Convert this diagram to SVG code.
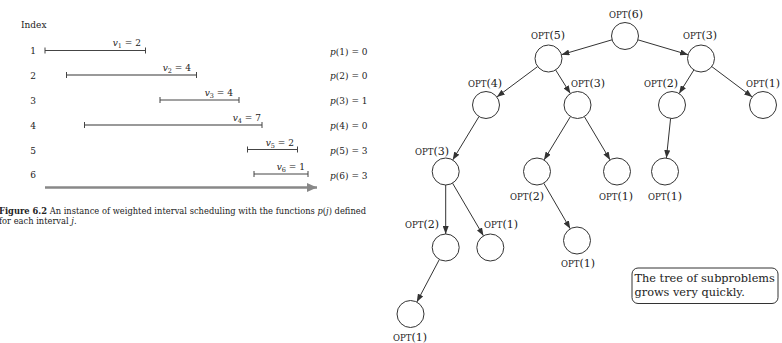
<svg xmlns="http://www.w3.org/2000/svg" width="782" height="343" viewBox="0 0 782 343">
<defs>
<style>
.t{font-family:"DejaVu Serif",serif;font-size:9px;fill:#222}
.cap{font-family:"DejaVu Serif",serif;font-size:8.3px;fill:#222}
.lab{font-family:"DejaVu Serif",serif;fill:#222}
.sc{font-size:8.5px}
.pn{font-size:11px}
.box{font-family:"DejaVu Serif",serif;font-size:11.3px;fill:#222}
.iv{stroke:#444;stroke-width:1;fill:none}
.ivg{stroke:#999;stroke-width:1.8;fill:none}
.node circle{fill:#fff;stroke:#333;stroke-width:1}
.edge{stroke:#333;stroke-width:1;fill:none;marker-end:url(#ah)}
</style>
<marker id="ah" markerUnits="userSpaceOnUse" markerWidth="8" markerHeight="6" refX="8" refY="3" orient="auto">
<path d="M0,0 L8,3 L0,6 z" fill="#333"/>
</marker>
<marker id="gah" markerUnits="userSpaceOnUse" markerWidth="10" markerHeight="9" refX="10" refY="4.5" orient="auto">
<path d="M0,0 L10,4.5 L0,9 z" fill="#888"/>
</marker>
</defs>

<g id="left-figure">
<text class="t" x="21" y="28">Index</text>
<g text-anchor="middle">
<text class="t" x="33" y="54">1</text>
<text class="t" x="33" y="79">2</text>
<text class="t" x="33" y="104">3</text>
<text class="t" x="33" y="129">4</text>
<text class="t" x="33" y="154">5</text>
<text class="t" x="33" y="178">6</text>
</g>
<g id="intervals">
<path class="iv" d="M45,50.5 H145.5 M45,47.5 V53.5 M145.5,47.5 V53.5"/>
<path class="ivg" d="M66.5,75 H196.5"/>
<path class="iv" d="M66.5,72 V78 M196.5,72 V78"/>
<path class="iv" d="M160,100 H239 M160,97 V103 M239,97 V103"/>
<path class="ivg" d="M84.5,125 H262"/>
<path class="iv" d="M84.5,122 V128 M262,122 V128"/>
<path class="iv" d="M247.5,149.5 H297.5 M247.5,146.5 V152.5 M297.5,146.5 V152.5"/>
<path class="iv" d="M254,174 H308 M254,171 V177 M308,171 V177"/>
</g>
<g text-anchor="end">
<text class="t" x="141" y="46"><tspan font-style="italic">v</tspan><tspan font-size="6.5" dy="2">1</tspan><tspan dy="-2"> = 2</tspan></text>
<text class="t" x="191" y="70.5"><tspan font-style="italic">v</tspan><tspan font-size="6.5" dy="2">2</tspan><tspan dy="-2"> = 4</tspan></text>
<text class="t" x="233" y="95.5"><tspan font-style="italic">v</tspan><tspan font-size="6.5" dy="2">3</tspan><tspan dy="-2"> = 4</tspan></text>
<text class="t" x="261" y="120.5"><tspan font-style="italic">v</tspan><tspan font-size="6.5" dy="2">4</tspan><tspan dy="-2"> = 7</tspan></text>
<text class="t" x="294" y="145.5"><tspan font-style="italic">v</tspan><tspan font-size="6.5" dy="2">5</tspan><tspan dy="-2"> = 2</tspan></text>
<text class="t" x="305" y="170"><tspan font-style="italic">v</tspan><tspan font-size="6.5" dy="2">6</tspan><tspan dy="-2"> = 1</tspan></text>
</g>
<g>
<text class="t" x="330" y="54.5"><tspan font-style="italic">p</tspan>(1) = 0</text>
<text class="t" x="330" y="79"><tspan font-style="italic">p</tspan>(2) = 0</text>
<text class="t" x="330" y="104"><tspan font-style="italic">p</tspan>(3) = 1</text>
<text class="t" x="330" y="129"><tspan font-style="italic">p</tspan>(4) = 0</text>
<text class="t" x="330" y="153.5"><tspan font-style="italic">p</tspan>(5) = 3</text>
<text class="t" x="330" y="178.5"><tspan font-style="italic">p</tspan>(6) = 3</text>
</g>
<path d="M45,187.5 H317" stroke="#888" stroke-width="2.5" fill="none" marker-end="url(#gah)"/>
<text class="cap" x="-1" y="213.5" textLength="367" lengthAdjust="spacing"><tspan font-weight="bold">Figure 6.2</tspan>  An instance of weighted interval scheduling with the functions <tspan font-style="italic">p</tspan>(<tspan font-style="italic">j</tspan>) defined</text>
<text class="cap" x="-1" y="223.5">for each interval <tspan font-style="italic">j</tspan>.</text>
</g>

<g id="connectors">
<line class="edge" x1="612.05" y1="39.81" x2="561.45" y2="54.69"/>
<line class="edge" x1="637.94" y1="39.83" x2="688.06" y2="54.67"/>
<line class="edge" x1="537.67" y1="66.56" x2="496.83" y2="96.94"/>
<line class="edge" x1="555.64" y1="69.95" x2="570.36" y2="93.55"/>
<line class="edge" x1="693.86" y1="69.95" x2="679.14" y2="93.55"/>
<line class="edge" x1="711.8" y1="66.6" x2="752.2" y2="96.9"/>
<line class="edge" x1="479" y1="116.55" x2="452.7" y2="159.95"/>
<line class="edge" x1="570.48" y1="116.53" x2="544.02" y2="159.97"/>
<line class="edge" x1="584.39" y1="116.61" x2="610.11" y2="159.89"/>
<line class="edge" x1="670.59" y1="118.43" x2="666.41" y2="158.07"/>
<line class="edge" x1="445.7" y1="185" x2="445.7" y2="234"/>
<line class="edge" x1="452.53" y1="183.14" x2="483.47" y2="235.86"/>
<line class="edge" x1="543.77" y1="183.18" x2="570.23" y2="228.82"/>
<line class="edge" x1="439.38" y1="259.43" x2="416.82" y2="302.07"/>
</g>

<g class="lab" text-anchor="middle">
<g id="n6" class="node"><circle cx="625" cy="36" r="13.5"/><text x="626" y="18"><tspan class="sc">OPT</tspan><tspan class="pn">(6)</tspan></text></g>
<g id="n5" class="node"><circle cx="548.5" cy="58.5" r="13.5"/><text x="548" y="39"><tspan class="sc">OPT</tspan><tspan class="pn">(5)</tspan></text></g>
<g id="n3r" class="node"><circle cx="701" cy="58.5" r="13.5"/><text x="700" y="39"><tspan class="sc">OPT</tspan><tspan class="pn">(3)</tspan></text></g>
<g id="n4" class="node"><circle cx="486" cy="105" r="13.5"/><text x="485" y="87"><tspan class="sc">OPT</tspan><tspan class="pn">(4)</tspan></text></g>
<g id="n3m" class="node"><circle cx="577.5" cy="105" r="13.5"/><text x="588" y="87"><tspan class="sc">OPT</tspan><tspan class="pn">(3)</tspan></text></g>
<g id="n2r" class="node"><circle cx="672" cy="105" r="13.5"/><text x="661" y="87"><tspan class="sc">OPT</tspan><tspan class="pn">(2)</tspan></text></g>
<g id="n1r" class="node"><circle cx="763" cy="105" r="13.5"/><text x="763" y="87"><tspan class="sc">OPT</tspan><tspan class="pn">(1)</tspan></text></g>
<g id="n3l" class="node"><circle cx="445.7" cy="171.5" r="13.5"/><text x="432" y="155"><tspan class="sc">OPT</tspan><tspan class="pn">(3)</tspan></text></g>
<g id="n2m" class="node"><circle cx="537" cy="171.5" r="13.5"/><text x="527" y="200"><tspan class="sc">OPT</tspan><tspan class="pn">(2)</tspan></text></g>
<g id="n1m" class="node"><circle cx="617" cy="171.5" r="13.5"/><text x="616" y="200"><tspan class="sc">OPT</tspan><tspan class="pn">(1)</tspan></text></g>
<g id="n1rr" class="node"><circle cx="665" cy="171.5" r="13.5"/><text x="665" y="200"><tspan class="sc">OPT</tspan><tspan class="pn">(1)</tspan></text></g>
<g id="n2l" class="node"><circle cx="445.7" cy="247.5" r="13.5"/><text x="422" y="228"><tspan class="sc">OPT</tspan><tspan class="pn">(2)</tspan></text></g>
<g id="n1l" class="node"><circle cx="490.3" cy="247.5" r="13.5"/><text x="501" y="228"><tspan class="sc">OPT</tspan><tspan class="pn">(1)</tspan></text></g>
<g id="n1mm" class="node"><circle cx="577" cy="240.5" r="13.5"/><text x="578" y="267"><tspan class="sc">OPT</tspan><tspan class="pn">(1)</tspan></text></g>
<g id="n1b" class="node"><circle cx="410.5" cy="314" r="13.5"/><text x="410" y="341"><tspan class="sc">OPT</tspan><tspan class="pn">(1)</tspan></text></g>
</g>

<g id="note">
<rect x="632" y="268" width="146" height="35.5" rx="6" fill="#fff" stroke="#333" stroke-width="1"/>
<text class="box" x="634.5" y="281.5">The tree of subproblems</text>
<text class="box" x="634.5" y="296">grows very quickly.</text>
</g>
</svg>
